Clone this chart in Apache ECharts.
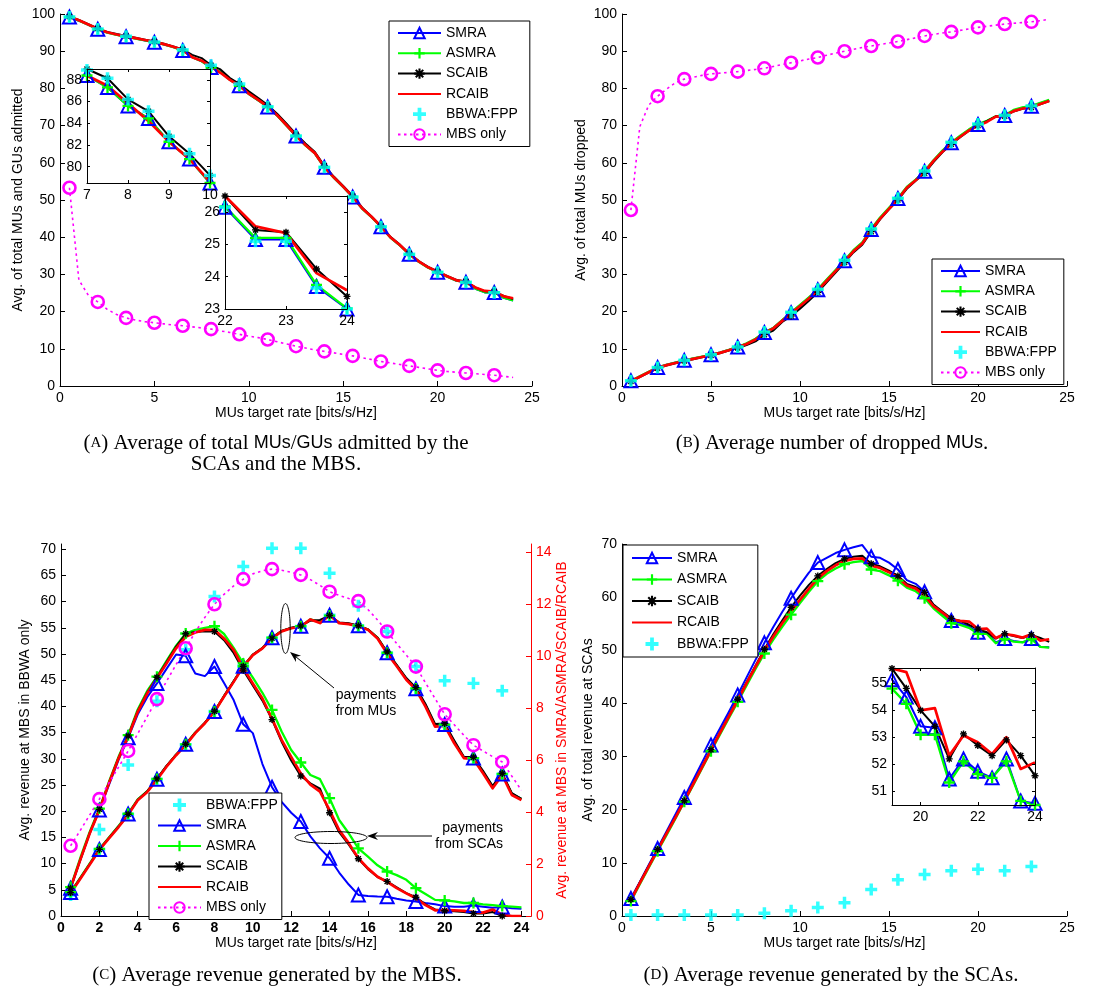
<!DOCTYPE html>
<html>
<head>
<meta charset="utf-8">
<script src="https://cdn.jsdelivr.net/npm/echarts@6/dist/echarts.min.js"></script>
<style>
  html, body { margin: 0; padding: 0; background: #fff; }
  #fig { width: 1114px; height: 993px; }
</style>
</head>
<body>
<div id="fig"></div>
<script>
// ---------- sampled target rates (bits/s/Hz) ----------
const rateX = [0.5, 1, 1.5, 2, 2.5, 3, 3.5, 4, 4.5, 5, 5.5, 6, 6.5, 7, 7.5, 8, 8.5, 9, 9.5, 10,
  10.5, 11, 11.5, 12, 12.5, 13, 13.5, 14, 14.5, 15, 15.5, 16, 16.5, 17, 17.5, 18, 18.5, 19, 19.5, 20,
  20.5, 21, 21.5, 22, 22.5, 23, 23.5, 24];
// rates that carry a marker in the full-size panels
const markX = [0.5, 2, 3.5, 5, 6.5, 8, 9.5, 11, 12.5, 14, 15.5, 17, 18.5, 20, 21.5, 23];

// ---------- (a) total MUs/GUs admitted ----------
const admSMRA = [99.2, 98.2, 97.1, 95.9, 95.0, 94.4, 93.9, 93.4, 92.9, 92.4, 91.8, 91.1, 90.2, 88.4, 87.3, 85.6, 84.45, 82.3, 80.7, 78.5,
  76.8, 75.0, 72.7, 70.0, 67.2, 64.7, 62.5, 58.8, 56.0, 53.5, 50.8, 47.7, 45.4, 42.8, 39.9, 37.8, 35.4, 33.4, 31.8, 30.6,
  29.4, 28.3, 27.9, 26.15, 25.15, 25.15, 23.7, 23.0];
const admASMRA = [99.2, 98.2, 97.1, 95.9, 95.0, 94.4, 93.9, 93.4, 92.9, 92.4, 91.8, 91.1, 90.2, 88.4, 87.3, 85.6, 84.45, 82.3, 80.7, 78.5,
  76.8, 75.0, 72.7, 70.0, 67.2, 64.7, 62.5, 58.8, 56.0, 53.5, 50.8, 47.7, 45.4, 42.8, 39.9, 37.8, 35.4, 33.4, 31.8, 30.6,
  29.4, 28.3, 27.9, 26.18, 25.2, 25.2, 23.75, 23.02];
const admSCAIB = [99.3, 98.4, 97.3, 96.1, 95.2, 94.6, 94.1, 93.6, 93.1, 92.6, 92.0, 91.3, 90.5, 89.0, 88.15, 86.2, 85.1, 82.8, 81.2, 79.2,
  77.4, 75.5, 73.2, 70.5, 67.7, 65.2, 62.9, 59.2, 56.3, 53.8, 51.1, 48.0, 45.6, 43.0, 40.1, 38.0, 35.6, 33.6, 32.0, 30.8,
  29.6, 28.5, 28.1, 26.5, 25.45, 25.38, 24.24, 23.39];
const admRCAIB = [99.3, 98.3, 97.2, 96.0, 95.1, 94.5, 94.0, 93.5, 93.0, 92.5, 91.9, 91.2, 90.3, 88.4, 87.45, 85.85, 84.2, 82.3, 80.7, 78.6,
  76.9, 75.1, 72.8, 70.1, 67.3, 64.8, 62.6, 58.9, 56.1, 53.6, 50.9, 47.8, 45.5, 42.9, 40.0, 37.9, 35.5, 33.5, 31.9, 30.7,
  29.5, 28.4, 28.0, 26.5, 25.56, 25.35, 24.11, 23.58];
const admBBWA = [99.2, 98.2, 97.1, 96.0, 95.0, 94.5, 94.0, 93.5, 93.0, 92.5, 91.9, 91.2, 90.4, 88.9, 88.15, 86.2, 85.1, 82.8, 81.2, 79.2,
  76.9, 75.1, 72.7, 70.0, 67.2, 64.7, 62.5, 58.8, 56.0, 53.5, 50.8, 47.7, 45.4, 42.8, 39.9, 37.8, 35.4, 33.4, 31.8, 30.6,
  29.4, 28.3, 27.9, 26.15, 25.1, 25.1, 23.65, 23.0];
const admMBS = [53.3, 28.5, 24.4, 22.6, 20.6, 19.2, 18.3, 17.7, 17.3, 17.0, 16.7, 16.4, 16.2, 15.9, 15.6, 15.3, 14.8, 14.4, 13.9, 13.4,
  13.0, 12.5, 11.9, 11.3, 10.7, 10.2, 9.7, 9.3, 8.9, 8.5, 8.1, 7.6, 7.1, 6.6, 6.2, 5.8, 5.4, 5.0, 4.6, 4.2,
  3.9, 3.7, 3.5, 3.3, 3.1, 2.9, 2.6, 2.3];

// ---------- (b) MUs dropped ----------
const dropSMRA = [1.4, 2.6, 3.8, 5.0, 5.7, 6.3, 6.9, 7.4, 7.9, 8.4, 9.0, 9.7, 10.5, 11.4, 12.6, 14.4, 15.6, 17.7, 19.7, 21.7,
  23.7, 25.9, 28.5, 31.1, 33.7, 36.4, 38.5, 42.1, 45.2, 47.8, 50.4, 53.4, 55.4, 57.7, 60.6, 63.2, 65.4, 67.2, 68.9, 70.3,
  71.2, 72.4, 72.7, 74.1, 74.8, 75.2, 76.0, 76.8];
const dropASMRA = [1.4, 2.6, 3.8, 5.0, 5.7, 6.3, 6.9, 7.4, 7.9, 8.4, 9.0, 9.7, 10.5, 11.5, 12.7, 14.5, 15.6, 17.7, 19.8, 21.8,
  23.8, 26.0, 28.6, 31.2, 33.8, 36.5, 38.6, 42.2, 45.3, 47.9, 50.5, 53.5, 55.5, 57.8, 60.7, 63.3, 65.5, 67.3, 69.0, 70.4,
  71.3, 72.5, 72.8, 74.2, 74.9, 75.3, 76.1, 76.9];
const dropSCAIB = [1.2, 2.4, 3.6, 4.8, 5.5, 6.1, 6.7, 7.2, 7.7, 8.2, 8.8, 9.5, 10.2, 11.0, 12.0, 13.8, 14.9, 17.2, 18.8, 20.8,
  22.9, 25.2, 27.9, 30.5, 33.2, 35.9, 38.0, 41.5, 44.8, 47.5, 50.0, 53.0, 55.2, 57.2, 60.2, 62.8, 65.0, 66.9, 68.6, 70.0,
  71.2, 72.5, 72.5, 73.8, 74.5, 74.9, 75.7, 76.6];
const dropRCAIB = [1.3, 2.5, 3.7, 4.9, 5.6, 6.2, 6.8, 7.3, 7.8, 8.3, 8.9, 9.6, 10.4, 11.3, 12.5, 14.2, 15.5, 17.5, 19.5, 21.5,
  23.5, 25.7, 28.3, 30.9, 33.5, 36.2, 38.3, 41.9, 45.0, 47.6, 50.2, 53.3, 55.3, 57.5, 60.5, 63.0, 65.2, 67.0, 68.7, 70.0,
  71.0, 72.4, 72.6, 73.9, 74.6, 74.9, 75.8, 76.6];
const dropBBWA = [1.4, 5.0, 6.9, 8.4, 10.5, 14.5, 19.8, 26.0, 33.8, 42.2, 50.5, 57.8, 65.5, 70.4, 72.8, 75.3];
const dropMBS = [47.3, 69.7, 75.5, 77.9, 79.8, 81.5, 82.5, 83.0, 83.5, 83.9, 84.1, 84.3, 84.5, 84.8, 85.1, 85.4, 85.9, 86.4, 86.9, 87.4,
  87.9, 88.3, 88.9, 89.5, 90.0, 90.5, 91.0, 91.4, 91.8, 92.2, 92.6, 93.1, 93.6, 94.1, 94.5, 94.9, 95.2, 95.6, 96.0, 96.4,
  96.7, 97.0, 97.3, 97.5, 97.7, 97.9, 98.2, 98.6];

// ---------- (c) MBS revenue ----------
// right axis: payments from MUs / from SCAs for each scheme
const mbsSMRAfromMU = [0.9, 1.44, 2.0, 2.56, 3.0, 3.45, 3.92, 4.47, 4.8, 5.26, 5.76, 6.2, 6.6, 7.05, 7.42, 7.86, 8.45, 9.02, 9.6, 10.04,
  10.3, 10.7, 10.95, 11.07, 11.14, 11.4, 11.3, 11.56, 11.27, 11.23, 11.16, 11.01, 10.7, 10.12, 9.63, 9.12, 8.74, 8.1, 7.33, 7.36,
  6.68, 6.1, 6.07, 5.53, 4.96, 5.46, 4.7, 4.5];
const mbsASMRAfromMU = [0.92, 1.46, 2.02, 2.58, 3.02, 3.46, 3.93, 4.48, 4.8, 5.27, 5.76, 6.2, 6.6, 7.05, 7.42, 7.86, 8.45, 9.02, 9.6, 10.04,
  10.3, 10.7, 10.95, 11.07, 11.14, 11.4, 11.3, 11.55, 11.27, 11.23, 11.16, 11.01, 10.7, 10.12, 9.63, 9.12, 8.75, 8.1, 7.33, 7.36,
  6.68, 6.1, 6.07, 5.53, 4.96, 5.46, 4.7, 4.5];
const mbsSCAIBfromMU = [0.9, 1.45, 2.0, 2.56, 3.0, 3.44, 3.91, 4.47, 4.8, 5.27, 5.77, 6.2, 6.6, 7.05, 7.43, 7.87, 8.46, 9.02, 9.6, 10.05,
  10.3, 10.68, 10.96, 11.08, 11.15, 11.35, 11.38, 11.55, 11.28, 11.25, 11.16, 11.02, 10.7, 10.15, 9.65, 9.15, 8.78, 8.15, 7.38, 7.4,
  6.75, 6.12, 6.1, 5.58, 5.0, 5.48, 4.72, 4.5];
const mbsRCAIBfromMU = [0.87, 1.42, 1.98, 2.54, 2.98, 3.42, 3.89, 4.45, 4.77, 5.24, 5.74, 6.18, 6.57, 7.03, 7.41, 7.85, 8.44, 9.0, 9.59, 10.03,
  10.29, 10.67, 10.94, 11.06, 11.12, 11.4, 11.26, 11.56, 11.26, 11.22, 11.14, 11.0, 10.67, 10.09, 9.6, 9.08, 8.7, 8.05, 7.28, 7.31,
  6.64, 6.07, 6.03, 5.49, 4.91, 5.42, 4.65, 4.46];
const mbsSMRAfromSCA = [1.07, 2.15, 3.18, 4.07, 5.04, 6.0, 6.85, 7.75, 8.42, 8.94, 9.5, 10.05, 10.0, 9.32, 9.22, 9.59, 8.96, 8.3, 7.37, 7.03,
  5.84, 4.95, 4.39, 3.97, 3.63, 3.06, 2.6, 2.22, 1.67, 1.21, 0.81, 0.77, 0.75, 0.74, 0.66, 0.6, 0.56, 0.5, 0.45, 0.38,
  0.36, 0.36, 0.4, 0.36, 0.32, 0.35, 0.3, 0.28];
const mbsASMRAfromSCA = [1.11, 2.22, 3.24, 4.13, 5.16, 6.12, 6.95, 7.94, 8.66, 9.2, 9.81, 10.39, 10.86, 11.0, 11.08, 11.14, 10.84, 10.31, 9.71, 9.16,
  8.58, 7.92, 7.09, 6.38, 5.9, 5.42, 5.26, 4.53, 3.69, 3.18, 2.6, 2.28, 1.95, 1.71, 1.57, 1.39, 1.07, 0.85, 0.62, 0.6,
  0.56, 0.5, 0.5, 0.45, 0.42, 0.38, 0.36, 0.33];
const mbsSCAIBfromSCA = [1.07, 2.15, 3.2, 4.1, 5.12, 6.08, 6.92, 7.88, 8.6, 9.18, 9.76, 10.36, 10.85, 10.92, 10.95, 10.94, 10.6, 10.11, 9.45, 8.86,
  8.28, 7.55, 6.7, 5.98, 5.38, 5.1, 4.9, 3.97, 3.22, 2.74, 2.2, 1.8, 1.5, 1.33, 1.1, 0.88, 0.72, 0.45, 0.25, 0.2,
  0.18, 0.15, 0.1, 0.1, 0.15, 0.0, 0.0, 0.0];
const mbsRCAIBfromSCA = [1.07, 2.15, 3.18, 4.07, 5.1, 6.06, 6.89, 7.85, 8.56, 9.14, 9.71, 10.29, 10.73, 10.9, 11.0, 11.0, 10.67, 10.23, 9.53, 8.94,
  8.36, 7.59, 6.77, 6.12, 5.48, 5.05, 4.78, 4.07, 3.3, 2.8, 2.22, 1.83, 1.51, 1.31, 1.07, 0.87, 0.68, 0.42, 0.22, 0.23,
  0.22, 0.2, 0.15, 0.13, 0.25, 0.05, 0.0, 0.0];
const mbsBBWAfromMU = [0.87, 2.56, 3.9, 5.25, 6.58, 7.86, 9.6, 10.68, 11.13, 11.56, 11.15, 10.1, 8.72, 7.33, 6.05, 5.44];
// left axis: BBWA-only revenue and MBS-only revenue
const mbsBBWA = [4.0, 16.5, 28.8, 41.0, 50.8, 61.0, 66.7, 70.2, 70.2, 65.4, 59.2, 54.3, 47.6, 44.9, 44.4, 43.0];
const mbsOnly = [13.4, 16.3, 19.3, 22.3, 25.4, 28.4, 31.5, 34.8, 38.1, 41.4, 44.8, 48.0, 51.1, 54.2, 57.0, 59.5, 61.4, 63.0, 64.3, 65.3,
  65.9, 66.2, 66.0, 65.6, 65.1, 64.2, 63.1, 61.9, 61.2, 60.6, 60.1, 58.5, 56.5, 54.3, 52.0, 49.8, 47.6, 44.5, 41.5, 38.5,
  36.5, 34.5, 32.6, 31.5, 30.4, 29.4, 26.7, 24.0];

// ---------- (d) SCA revenue ----------
const scaSMRA = [3.3, 6.4, 9.6, 12.7, 15.9, 19.1, 22.3, 25.6, 28.9, 32.2, 35.3, 38.4, 41.6, 44.9, 48.2, 51.4, 54.4, 57.2, 59.8, 62.3,
  64.6, 66.5, 67.4, 68.3, 68.9, 69.4, 69.8, 67.6, 67.4, 66.5, 65.2, 63.2, 62.5, 61.0, 58.5, 56.9, 55.6, 55.12, 54.48, 53.4,
  53.35, 51.46, 52.2, 51.74, 51.5, 52.2, 50.65, 50.56];
const scaASMRA = [2.8, 6.0, 9.1, 12.2, 15.2, 18.3, 21.5, 24.6, 27.8, 31.0, 34.1, 37.2, 40.3, 43.4, 46.5, 49.4, 52.0, 54.4, 56.7, 58.9,
  61.0, 63.0, 64.4, 65.4, 66.2, 66.6, 66.8, 65.2, 64.9, 64.1, 63.1, 61.8, 61.1, 59.8, 57.9, 56.5, 55.1, 54.79, 54.23, 53.09,
  53.09, 51.33, 52.11, 51.64, 51.5, 52.11, 50.65, 50.5];
const scaSCAIB = [3.1, 6.3, 9.4, 12.5, 15.6, 18.6, 21.7, 24.9, 28.1, 31.3, 34.5, 37.6, 40.8, 44.0, 47.1, 50.2, 53.0, 55.6, 58.1, 60.3,
  62.3, 64.0, 65.3, 66.4, 67.2, 67.6, 67.8, 66.3, 65.8, 65.0, 64.0, 62.5, 61.9, 60.9, 58.6, 57.3, 56.0, 55.53, 54.8, 53.99,
  53.4, 52.2, 53.12, 52.69, 52.32, 52.9, 52.32, 51.58];
const scaRCAIB = [3.0, 6.2, 9.3, 12.4, 15.5, 18.5, 21.6, 24.8, 28.0, 31.2, 34.4, 37.5, 40.6, 43.8, 46.9, 49.9, 52.6, 55.1, 57.4, 59.5,
  61.6, 63.5, 64.9, 66.0, 66.8, 67.2, 67.3, 65.9, 65.5, 64.7, 63.7, 62.2, 61.6, 60.3, 58.3, 57.1, 55.8, 55.53, 55.4, 53.99,
  54.07, 52.32, 53.06, 52.81, 52.38, 53.0, 51.83, 52.07];
const scaBBWA = [0.2, 0.2, 0.2, 0.2, 0.2, 0.5, 1.0, 1.6, 2.5, 5.0, 6.8, 7.8, 8.5, 8.8, 8.5, 9.3];

// ---------- tick values ----------
const ticksC_x = [0, 2, 4, 6, 8, 10, 12, 14, 16, 18, 20, 22, 24];
const ticksC_left = [0, 5, 10, 15, 20, 25, 30, 35, 40, 45, 50, 55, 60, 65, 70];
const ticksC_right = [0, 2, 4, 6, 8, 10, 12, 14];
const ticksInsetA1 = [80, 82, 84, 86, 88];
const ticksInsetA2 = [23, 24, 25, 26];
const ticksInsetD_x = [20, 22, 24];
const ticksInsetD_y = [51, 52, 53, 54, 55];

// ---------- styling ----------
const SANS = '"Liberation Sans", Arial, Helvetica, sans-serif';
const SERIF = '"Liberation Serif", "Times New Roman", serif';
const PLUS = 'path://M-5,-1.05H5V1.05H-5Z M-1.05,-5H1.05V5H-1.05Z';
const PLUS_BOLD = 'path://M-5,-1.45H5V1.45H-5Z M-1.45,-5H1.45V5H-1.45Z';
const STAR = 'path://M-5,-1H5V1H-5Z M-1,-5H1V5H-1Z M-4.3,-2.9L-2.9,-4.3L4.3,2.9L2.9,4.3Z M2.9,-4.3L4.3,-2.9L-2.9,4.3L-4.3,2.9Z';
const CLEAR = 'rgba(0,0,0,0)';

const LOOK = {
  'SMRA':     { line: '#0000ff', width: 2,   symbol: 'triangle', size: 13, fill: CLEAR, stroke: '#0000ff', sw: 2 },
  'ASMRA':    { line: '#00ff00', width: 2.3, symbol: PLUS, size: 11, fill: '#00ff00' },
  'SCAIB':    { line: '#000000', width: 2,   symbol: STAR, size: 7, fill: '#000000' },
  'RCAIB':    { line: '#ff0000', width: 2.7, symbol: 'none', size: 0, fill: CLEAR },
  'MBS only': { line: '#ff00ff', width: 1.6, dash: [2.5, 3.5], symbol: 'circle', size: 12, fill: CLEAR, stroke: '#ff00ff', sw: 2.6 }
};

function curve(name, ys, xi, yi, everyPoint, z) {
  const k = LOOK[name];
  const data = rateX.map((x, i) => {
    const marked = k.symbol !== 'none' && (everyPoint || markX.indexOf(x) >= 0);
    return marked ? [x, ys[i]] : { value: [x, ys[i]], symbol: 'none' };
  });
  return {
    type: 'line', name, xAxisIndex: xi, yAxisIndex: yi, data, z: z || 2,
    symbol: k.symbol, symbolSize: k.size, showSymbol: true, showAllSymbol: true, clip: true,
    lineStyle: { color: k.line, width: k.width, type: k.dash || 'solid', join: 'round' },
    itemStyle: { color: k.fill, borderColor: k.stroke || k.fill, borderWidth: k.sw || 0 },
    emphasis: { disabled: true }, silent: true, animation: false
  };
}

function crosses(xs, ys, xi, yi, z) {
  return {
    type: 'scatter', name: 'BBWA:FPP', xAxisIndex: xi, yAxisIndex: yi, z: z || 2,
    data: xs.map((x, i) => [x, ys[i]]), symbol: PLUS_BOLD, symbolSize: 12, clip: true,
    itemStyle: { color: '#00ffff' }, emphasis: { disabled: true }, silent: true, animation: false
  };
}

// value picked at the marker rates from a full series
const atMarks = ys => markX.map(x => ys[rateX.indexOf(x)]);

function axis(gridIndex, position, min, max, o) {
  o = o || {};
  const col = o.color || '#000';
  return {
    type: 'value', gridIndex, position, min, max, interval: o.interval,
    name: o.name || '', nameLocation: 'middle', nameGap: o.nameGap || 0, nameRotate: o.nameRotate,
    nameTextStyle: { fontFamily: SANS, fontSize: 14, color: col },
    axisLine: { show: true, onZero: false, lineStyle: { color: col, width: 1 } },
    axisTick: { show: true, inside: true, length: o.tickLen || 5, customValues: o.ticks,
                lineStyle: { color: col, width: 1 } },
    axisLabel: { show: !o.mirror, customValues: o.ticks, margin: o.margin || 5, color: col,
                 fontFamily: SANS, fontSize: 14, fontWeight: o.bold ? 'bold' : 'normal' },
    splitLine: { show: false }, z: o.z || 0
  };
}

const XNAME = 'MUs target rate [bits/s/Hz]';
const inset = { show: true, backgroundColor: '#fff', borderWidth: 0, z: 20 };

const grids = [
  { left: 60, top: 14, width: 472, height: 372 },     // (a)
  { left: 622, top: 14, width: 445, height: 372 },    // (b)
  { left: 61, top: 544, width: 470, height: 372 },    // (c)
  { left: 622, top: 544, width: 445, height: 372 },   // (d)
  Object.assign({ left: 87, top: 69, width: 123, height: 114 }, inset),    // (a) zoom 7..10
  Object.assign({ left: 225, top: 196, width: 122, height: 113 }, inset),  // (a) zoom 22..24
  Object.assign({ left: 892, top: 668, width: 143, height: 137 }, inset)   // (d) zoom 19..24
];

const xAxes = [
  axis(0, 'bottom', 0, 25, { interval: 5, name: XNAME, nameGap: 20 }),
  axis(1, 'bottom', 0, 25, { interval: 5, name: XNAME, nameGap: 20 }),
  axis(2, 'bottom', 0, 24.5, { ticks: ticksC_x, bold: true, name: XNAME, nameGap: 19 }),
  axis(3, 'bottom', 0, 25, { interval: 5, name: XNAME, nameGap: 20 }),
  axis(4, 'bottom', 7, 10, { interval: 1, tickLen: 3, z: 22 }),
  axis(4, 'top', 7, 10, { interval: 1, tickLen: 3, mirror: true, z: 22 }),
  axis(5, 'bottom', 22, 24, { interval: 1, tickLen: 3, z: 22 }),
  axis(5, 'top', 22, 24, { interval: 1, tickLen: 3, mirror: true, z: 22 }),
  axis(6, 'bottom', 19, 24, { ticks: ticksInsetD_x, tickLen: 3, z: 22 }),
  axis(6, 'top', 19, 24, { ticks: ticksInsetD_x, tickLen: 3, mirror: true, z: 22 })
];

const yAxes = [
  axis(0, 'left', 0, 100, { interval: 10, name: 'Avg. of total MUs and GUs admitted', nameGap: 35, nameRotate: 90 }),
  axis(1, 'left', 0, 100, { interval: 10, name: 'Avg. of total MUs dropped', nameGap: 34, nameRotate: 90 }),
  axis(2, 'left', 0, 71, { ticks: ticksC_left, name: 'Avg. revenue at MBS in BBWA only', nameGap: 29, nameRotate: 90 }),
  axis(2, 'right', 0, 14.3, { ticks: ticksC_right, color: '#ff0000',
       name: 'Avg. revenue at MBS in SMRA/ASMRA/SCAIB/RCAIB', nameGap: 24, nameRotate: 90 }),
  axis(3, 'left', 0, 70, { interval: 10, name: 'Avg. of total revenue at SCAs', nameGap: 27, nameRotate: 90 }),
  axis(4, 'left', 78.5, 89, { ticks: ticksInsetA1, tickLen: 3, z: 22 }),
  axis(4, 'right', 78.5, 89, { ticks: ticksInsetA1, tickLen: 3, mirror: true, z: 22 }),
  axis(5, 'left', 23, 26.5, { ticks: ticksInsetA2, tickLen: 3, z: 22 }),
  axis(5, 'right', 23, 26.5, { ticks: ticksInsetA2, tickLen: 3, mirror: true, z: 22 }),
  axis(6, 'left', 50.5, 55.55, { ticks: ticksInsetD_y, tickLen: 3, z: 22 }),
  axis(6, 'right', 50.5, 55.55, { ticks: ticksInsetD_y, tickLen: 3, mirror: true, z: 22 })
];

const series = [
  // (a)
  curve('SMRA', admSMRA, 0, 0), curve('ASMRA', admASMRA, 0, 0), curve('SCAIB', admSCAIB, 0, 0),
  curve('RCAIB', admRCAIB, 0, 0), crosses(markX, atMarks(admBBWA), 0, 0), curve('MBS only', admMBS, 0, 0),
  // (b)
  curve('SMRA', dropSMRA, 1, 1), curve('ASMRA', dropASMRA, 1, 1), curve('SCAIB', dropSCAIB, 1, 1),
  curve('RCAIB', dropRCAIB, 1, 1), crosses(markX, dropBBWA, 1, 1), curve('MBS only', dropMBS, 1, 1),
  // (c)
  crosses(markX, mbsBBWA, 2, 2), crosses(markX, mbsBBWAfromMU, 2, 3),
  curve('SMRA', mbsSMRAfromMU, 2, 3), curve('SMRA', mbsSMRAfromSCA, 2, 3),
  curve('ASMRA', mbsASMRAfromMU, 2, 3), curve('ASMRA', mbsASMRAfromSCA, 2, 3),
  curve('SCAIB', mbsSCAIBfromMU, 2, 3), curve('SCAIB', mbsSCAIBfromSCA, 2, 3),
  curve('RCAIB', mbsRCAIBfromMU, 2, 3), curve('RCAIB', mbsRCAIBfromSCA, 2, 3),
  curve('MBS only', mbsOnly, 2, 2),
  // (d)
  curve('SMRA', scaSMRA, 3, 4), curve('ASMRA', scaASMRA, 3, 4), curve('SCAIB', scaSCAIB, 3, 4),
  curve('RCAIB', scaRCAIB, 3, 4), crosses(markX, scaBBWA, 3, 4),
  // (a) zoomed views
  curve('SMRA', admSMRA, 4, 5, true, 21), curve('ASMRA', admASMRA, 4, 5, true, 21),
  curve('SCAIB', admSCAIB, 4, 5, true, 21), curve('RCAIB', admRCAIB, 4, 5, true, 21),
  crosses(rateX, admBBWA, 4, 5, 21),
  curve('SMRA', admSMRA, 6, 7, true, 21), curve('ASMRA', admASMRA, 6, 7, true, 21),
  curve('SCAIB', admSCAIB, 6, 7, true, 21), curve('RCAIB', admRCAIB, 6, 7, true, 21),
  crosses(rateX, admBBWA, 6, 7, 21),
  // (d) zoomed view
  curve('SMRA', scaSMRA, 8, 9, true, 21), curve('ASMRA', scaASMRA, 8, 9, true, 21),
  curve('SCAIB', scaSCAIB, 8, 9, true, 21), curve('RCAIB', scaRCAIB, 8, 9, true, 21)
];

function legendBox(names, left, top, iw, gap, pad) {
  return {
    data: names, orient: 'vertical', left, top, itemWidth: iw, itemHeight: 13, itemGap: gap,
    padding: pad, backgroundColor: '#fff', borderColor: '#000', borderWidth: 1, borderRadius: 0,
    textStyle: { fontFamily: SANS, fontSize: 14, color: '#000' }, selectedMode: false, z: 30
  };
}
const fullNames = ['SMRA', 'ASMRA', 'SCAIB', 'RCAIB', 'BBWA:FPP', 'MBS only'];
const legends = [
  legendBox(fullNames, 389, 21, 43, 6.3, [5, 12, 5, 8]),
  legendBox(fullNames, 932, 259, 39, 6.3, [5, 7, 5, 8]),
  legendBox(['BBWA:FPP', 'SMRA', 'ASMRA', 'SCAIB', 'RCAIB', 'MBS only'], 149, 793, 43, 6.5, [5, 4, 5, 8]),
  legendBox(['SMRA', 'ASMRA', 'SCAIB', 'RCAIB', 'BBWA:FPP'], 623, 545, 40, 7.5, [6, 9, 6, 8])
];

// captions and the annotations of panel (c)
const capRich = {
  sc: { fontFamily: SERIF, fontSize: 15, fill: '#000' },
  sf: { fontFamily: SANS, fontSize: 18, fill: '#000' }
};
function caption(text, x, y) {
  return { type: 'text', x, y, z: 40, silent: true,
    style: { text, rich: capRich, font: '21px ' + SERIF, fill: '#000', align: 'center', verticalAlign: 'middle' } };
}
function note(text, x, y, align) {
  return { type: 'text', x, y, z: 40, silent: true,
    style: { text, font: '14px ' + SANS, fill: '#000', align, verticalAlign: 'middle', lineHeight: 16 } };
}
function arrow(x1, y1, x2, y2) {
  const dx = x1 - x2, dy = y1 - y2, L = Math.hypot(dx, dy), ux = dx / L, uy = dy / L;
  const px = -uy, py = ux, len = 11, half = 4, notch = 7.5;
  const bx = x2 + ux * len, by = y2 + uy * len;
  return [
    { type: 'line', z: 40, silent: true, shape: { x1, y1, x2: x2 + ux * notch, y2: y2 + uy * notch },
      style: { stroke: '#000', lineWidth: 1 } },
    { type: 'polygon', z: 40, silent: true,
      shape: { points: [[x2, y2], [bx + px * half, by + py * half], [x2 + ux * notch, y2 + uy * notch], [bx - px * half, by - py * half]] },
      style: { fill: '#000' } }
  ];
}

const graphics = [
  caption('({sc|A}) Average of total {sf|MUs}/{sf|GUs} admitted by the', 276, 443),
  caption('SCAs and the MBS.', 276, 464),
  caption('({sc|B}) Average number of dropped {sf|MUs}.', 832, 443),
  caption('({sc|C}) Average revenue generated by the MBS.', 277, 975),
  caption('({sc|D}) Average revenue generated by the SCAs.', 831, 975),
  { type: 'ellipse', z: 40, silent: true, shape: { cx: 285.5, cy: 628.5, rx: 4.7, ry: 25 },
    style: { fill: 'none', stroke: '#000', lineWidth: 1 } },
  { type: 'ellipse', z: 40, silent: true, shape: { cx: 331, cy: 837.5, rx: 36, ry: 6 },
    style: { fill: 'none', stroke: '#000', lineWidth: 1 } },
  ...arrow(334, 688, 290, 652),
  ...arrow(432, 836, 367, 836),
  note('payments\nfrom MUs', 366, 703, 'center'),
  note('payments\nfrom SCAs', 503, 836, 'right')
];

const chart = echarts.init(document.getElementById('fig'), null, { renderer: 'canvas', width: 1114, height: 993 });
chart.setOption({
  animation: false,
  backgroundColor: '#fff',
  textStyle: { fontFamily: SANS },
  grid: grids,
  xAxis: xAxes,
  yAxis: yAxes,
  legend: legends,
  series,
  graphic: graphics
});
</script>
</body>
</html>
